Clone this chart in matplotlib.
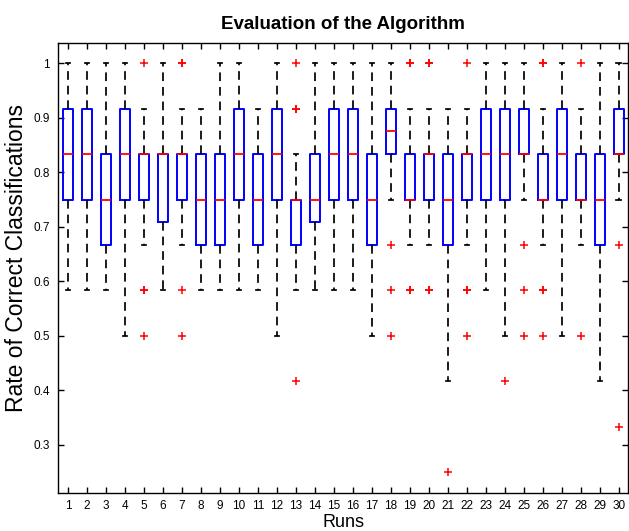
import matplotlib
matplotlib.use("Agg")
import matplotlib.pyplot as plt

plt.rcParams['font.family'] = ['Liberation Sans', 'DejaVu Sans']

runs = list(range(1, 31))
q1 = [0.75, 0.75, 0.6667, 0.75, 0.75, 0.7083, 0.75, 0.6667, 0.6667, 0.75,
      0.6667, 0.75, 0.6667, 0.7083, 0.75, 0.75, 0.6667, 0.8333, 0.75, 0.75,
      0.6667, 0.75, 0.75, 0.75, 0.8333, 0.75, 0.75, 0.75, 0.6667, 0.8333]
med = [0.8333, 0.8333, 0.75, 0.8333, 0.8333, 0.8333, 0.8333, 0.75, 0.75, 0.8333,
       0.75, 0.8333, 0.75, 0.75, 0.8333, 0.8333, 0.75, 0.875, 0.75, 0.8333,
       0.75, 0.8333, 0.8333, 0.8333, 0.8333, 0.75, 0.8333, 0.75, 0.75, 0.8333]
q3 = [0.9167, 0.9167, 0.8333, 0.9167, 0.8333, 0.8333, 0.8333, 0.8333, 0.8333, 0.9167,
      0.8333, 0.9167, 0.75, 0.8333, 0.9167, 0.9167, 0.8333, 0.9167, 0.8333, 0.8333,
      0.8333, 0.8333, 0.9167, 0.9167, 0.9167, 0.8333, 0.9167, 0.8333, 0.8333, 0.9167]
whis_lo = [0.5833, 0.5833, 0.5833, 0.5, 0.6667, 0.5833, 0.6667, 0.5833, 0.5833, 0.5833,
           0.5833, 0.5, 0.5833, 0.5833, 0.5833, 0.5833, 0.5, 0.75, 0.6667, 0.6667,
           0.4167, 0.6667, 0.5833, 0.5, 0.75, 0.6667, 0.5, 0.6667, 0.4167, 0.75]
whis_hi = [1.0, 1.0, 1.0, 1.0, 0.9167, 1.0, 0.9167, 0.9167, 1.0, 1.0,
           0.9167, 1.0, 0.8333, 1.0, 1.0, 1.0, 1.0, 1.0, 0.9167, 0.9167,
           0.9167, 0.9167, 1.0, 1.0, 1.0, 0.9167, 1.0, 0.9167, 1.0, 1.0]
outliers = [[], [], [], [], [1.0, 0.5833, 0.5833, 0.5], [], [1.0, 1.0, 0.5833, 0.5], [], [], [],
            [], [], [1.0, 0.9167, 0.9167, 0.4167], [], [], [], [], [0.6667, 0.5833, 0.5], [1.0, 1.0, 0.5833, 0.5833], [1.0, 1.0, 0.5833, 0.5833],
            [0.25], [1.0, 0.5833, 0.5833, 0.5], [], [0.4167], [0.6667, 0.5833, 0.5], [1.0, 1.0, 0.5833, 0.5833, 0.5], [], [1.0, 0.5], [], [0.6667, 0.3333]]
ytick_vals = [0.3, 0.4, 0.5, 0.6, 0.7, 0.8, 0.9, 1.0]
ytick_labels = ['0.3', '0.4', '0.5', '0.6', '0.7', '0.8', '0.9', '1']

fig = plt.figure(figsize=(6.29, 5.31), dpi=100)
ax = fig.add_axes([0.093, 0.0721, 0.906, 0.8475])

stats = []
for i in range(len(runs)):
    stats.append(dict(med=med[i], q1=q1[i], q3=q3[i], whislo=whis_lo[i],
                      whishi=whis_hi[i], fliers=outliers[i], label=str(runs[i])))

ax.bxp(stats, positions=runs, widths=0.5, showfliers=True,
       boxprops=dict(color='#0000ff', linewidth=1.4),
       medianprops=dict(color='#ff0000', linewidth=1.3),
       whiskerprops=dict(color='black', linewidth=1.25, linestyle=(0, (5, 3.4))),
       capprops=dict(color='black', linewidth=1.25),
       capwidths=0.25,
       flierprops=dict(marker='+', markeredgecolor='#ff0000', markersize=6,
                       markeredgewidth=1.1, linestyle='none'))

ax.set_xlim(0.5, 30.5)
ax.set_ylim(0.2125, 1.0375)
ax.set_xticks(runs)
ax.set_xticklabels([str(r) for r in runs], fontsize=8.5)
ax.set_yticks(ytick_vals)
ax.set_yticklabels(ytick_labels, fontsize=8.5)
ax.tick_params(direction='in', top=True, right=True, length=4, width=1.0)
ax.tick_params(axis='x', pad=5)
ax.tick_params(axis='y', pad=6)
for s in ax.spines.values():
    s.set_linewidth(1.0)

ax.set_title('Evaluation of the Algorithm', fontsize=13.5, fontweight='bold', pad=10)
ax.set_xlabel('Runs', fontsize=13, labelpad=1.5)
ax.set_ylabel('Rate of Correct Classifications', fontsize=16.5)
ax.yaxis.set_label_coords(-0.054, 0.521)

fig.savefig('out.png', dpi=100)
